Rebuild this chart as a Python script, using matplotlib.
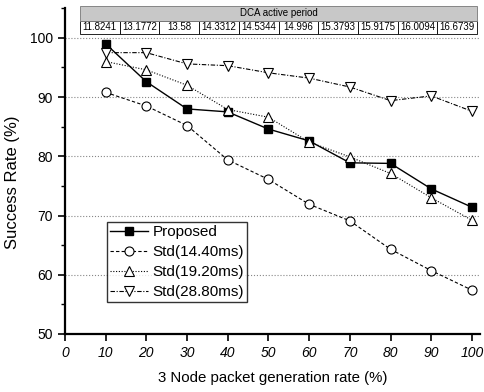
import matplotlib.pyplot as plt
from matplotlib.ticker import MultipleLocator

plt.rcParams['font.family'] = ['Liberation Sans', 'DejaVu Sans']

# data
rate = [10, 20, 30, 40, 50, 60, 70, 80, 90, 100]
proposed = [99.0, 92.6, 88.0, 87.5, 84.6, 82.6, 78.9, 78.8, 74.5, 71.4]
std_1440 = [90.8, 88.5, 85.2, 79.4, 76.1, 71.9, 69.1, 64.3, 60.7, 57.4]
std_1920 = [96.0, 94.6, 92.0, 87.9, 86.6, 82.4, 79.9, 77.1, 73.0, 69.2]
std_2880 = [97.5, 97.5, 95.6, 95.3, 94.1, 93.2, 91.7, 89.4, 90.2, 87.6]
dca_period = ['11.8241', '13.1772', '13.58', '14.3312', '14.5344',
              '14.996', '15.3793', '15.9175', '16.0094', '16.6739']

fig = plt.figure(figsize=(4.84, 3.92), dpi=100)
ax = fig.add_axes([0.134, 0.148, 0.858, 0.831])

ax.plot(rate, proposed, color='black', lw=1.0, ls='-',
        marker='s', ms=6, mfc='black', mec='black', label='Proposed')
ax.plot(rate, std_1440, color='black', lw=0.8, ls=(0, (3, 2)),
        marker='o', ms=6.5, mfc='white', mec='black', mew=0.8,
        label='Std(14.40ms)')
ax.plot(rate, std_1920, color='black', lw=0.8, ls=(0, (1, 1.5)),
        marker='^', ms=7, mfc='white', mec='black', mew=0.8,
        label='Std(19.20ms)')
ax.plot(rate, std_2880, color='black', lw=0.8, ls=(0, (4, 1.5, 1, 1.5)),
        marker='v', ms=7, mfc='white', mec='black', mew=0.8,
        label='Std(28.80ms)')

ax.set_xlim(0, 102)
ax.set_ylim(50, 105)
ax.set_xticks([0, 10, 20, 30, 40, 50, 60, 70, 80, 90, 100])
ax.set_yticks([50, 60, 70, 80, 90, 100])
ax.yaxis.set_minor_locator(MultipleLocator(5))
ax.tick_params(axis='both', direction='out', width=1.2, length=5,
               labelsize=10)
ax.tick_params(axis='y', which='minor', direction='out', width=1.0, length=3)
for lbl in ax.get_xticklabels():
    lbl.set_fontstyle('italic')

ax.grid(True, axis='y', which='major', color='#888888', ls=':', lw=0.8)
ax.set_axisbelow(True)

for side in ['top', 'right']:
    ax.spines[side].set_visible(False)
for side in ['left', 'bottom']:
    ax.spines[side].set_linewidth(1.6)

ax.set_xlabel('3 Node packet generation rate (%)', fontsize=10.8, labelpad=8)
ax.set_ylabel('Success Rate (%)', fontsize=12)
ax.yaxis.set_label_coords(-0.108, 0.467)

leg = ax.legend(loc='upper left', bbox_to_anchor=(0.101, 0.344),
                fontsize=11, frameon=True, fancybox=False,
                borderpad=0.2, labelspacing=0.4, handlelength=2.5,
                handletextpad=0.3, borderaxespad=0)
leg.get_frame().set_edgecolor('black')
leg.get_frame().set_linewidth(1.0)

# DCA active period table at the top of the plot
tbl = ax.table(cellText=[dca_period], cellLoc='center',
               bbox=[0.036, 0.921, 0.957, 0.040])
tbl.auto_set_font_size(False)
tbl.set_fontsize(7)
for cell in tbl.get_celld().values():
    cell.set_linewidth(0.6)

hdr = ax.table(cellText=[['DCA active period']], cellLoc='center',
               bbox=[0.036, 0.961, 0.957, 0.046])
hdr.auto_set_font_size(False)
hdr.set_fontsize(7)
hcell = hdr[0, 0]
hcell.set_facecolor('#c8c8c8')
hcell.set_edgecolor('#777777')
hcell.set_linewidth(0.6)

fig.savefig('out.png', dpi=100)
